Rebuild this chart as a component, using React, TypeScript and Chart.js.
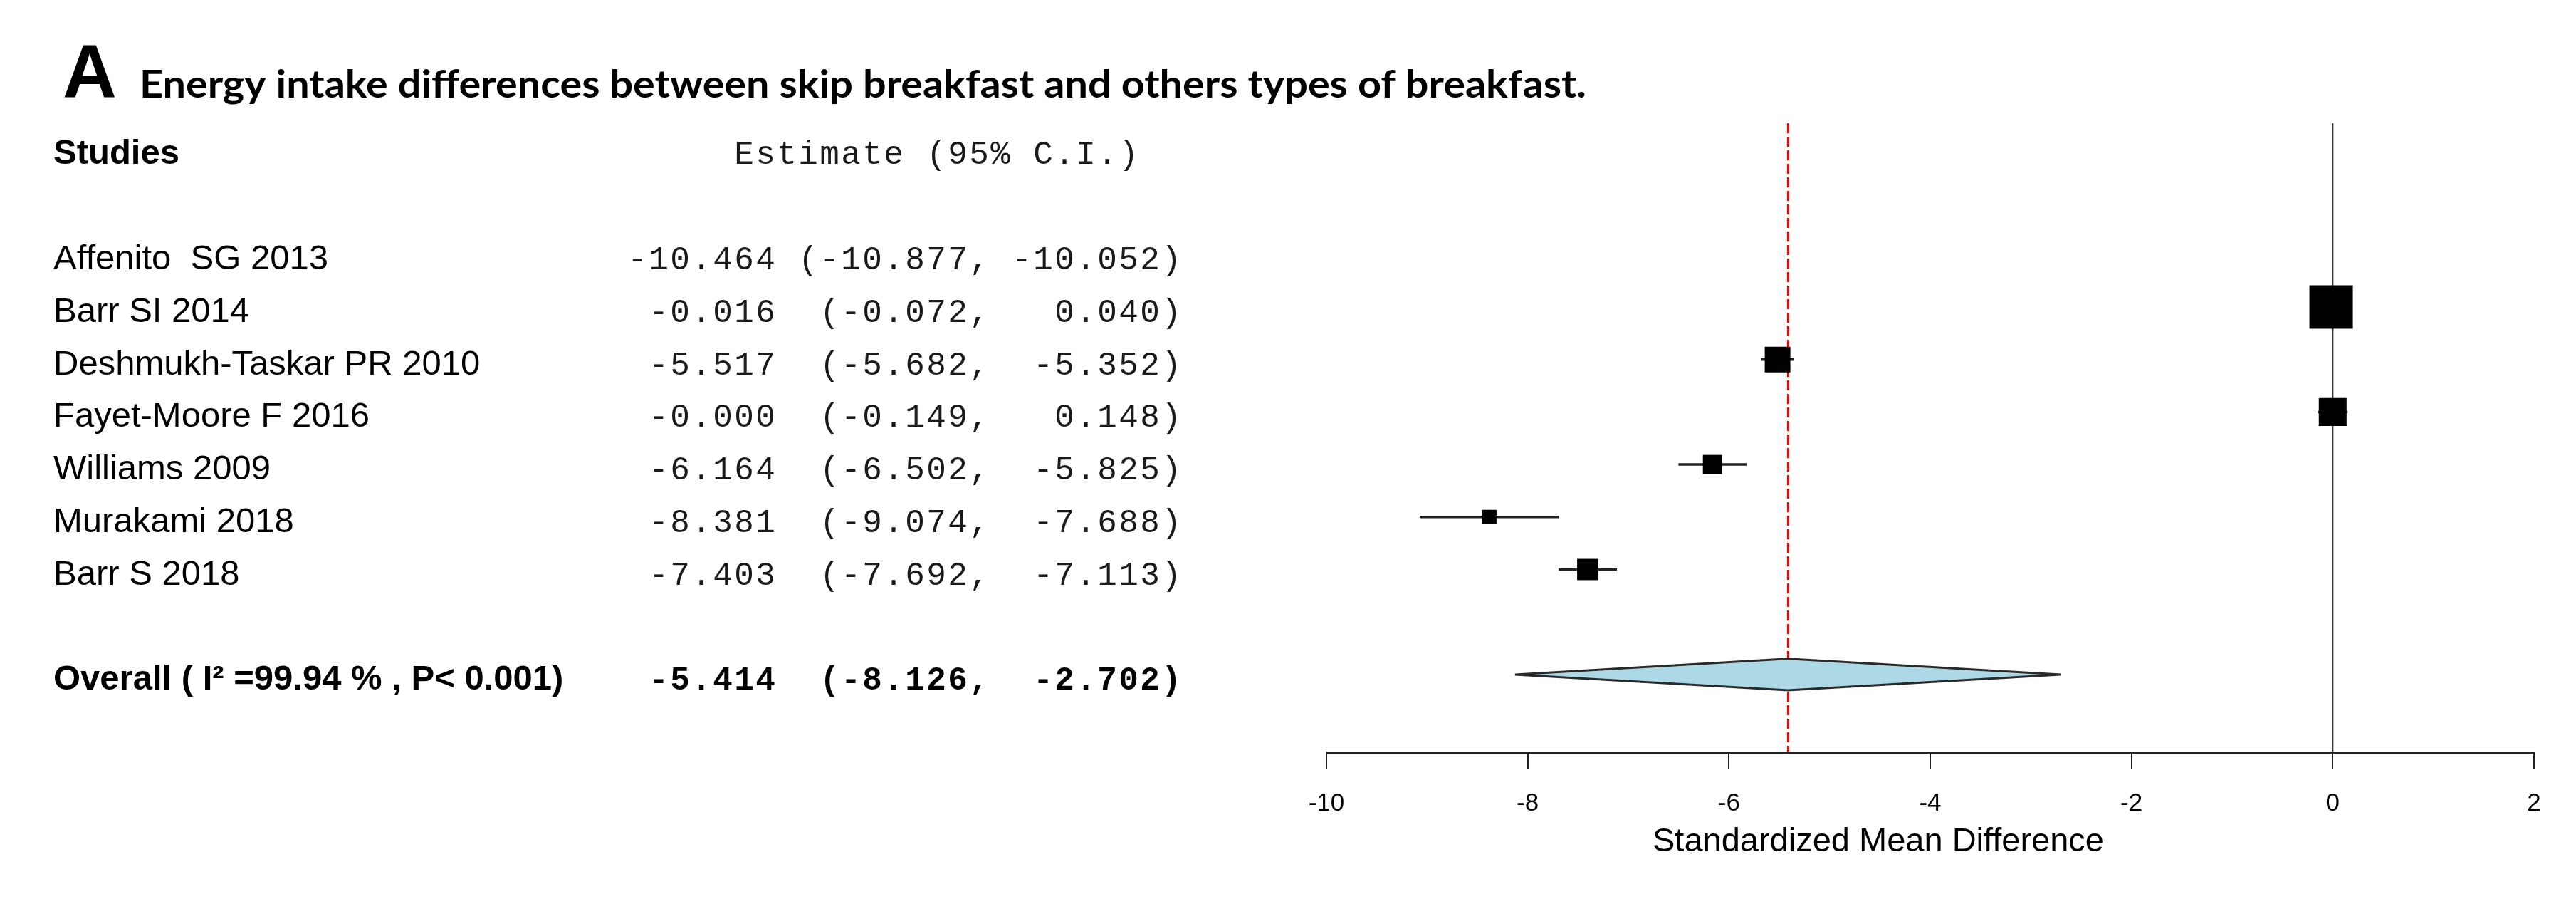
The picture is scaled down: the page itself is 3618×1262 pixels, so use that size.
import React, { useEffect, useRef } from "react";
import { Chart, registerables } from "chart.js";

Chart.register(...registerables);

// ---------------- data ----------------
const studyLabels = [
  "Affenito  SG 2013",
  "Barr SI 2014",
  "Deshmukh-Taskar PR 2010",
  "Fayet-Moore F 2016",
  "Williams 2009",
  "Murakami 2018",
  "Barr S 2018",
];
const estimates = [-10.464, -0.016, -5.517, -0.0003, -6.164, -8.381, -7.403];
const ciLower = [-10.877, -0.072, -5.682, -0.149, -6.502, -9.074, -7.692];
const ciUpper = [-10.052, 0.04, -5.352, 0.148, -5.825, -7.688, -7.113];
const studyWeights = [0.43, 1.0, 0.59, 0.64, 0.44, 0.33, 0.49];

const overallLabel = "Overall ( I\u00B2 =99.94 % , P< 0.001)";
const overallEstimate = -5.414;
const overallLower = -8.126;
const overallUpper = -2.702;

const xTickValues = [-10, -8, -6, -4, -2, 0, 2];

const panelLetter = "A";
const chartTitle =
  "Energy intake differences between skip breakfast and others types of breakfast.";
const studiesHeader = "Studies";
const estimateHeader = "Estimate (95% C.I.)";
const xAxisTitle = "Standardized Mean Difference";

// ---------------- layout / style ----------------
const W = 3618;
const H = 1262;
const PLOT_LEFT = 1863;
const PLOT_RIGHT = 3559;
const PLOT_TOP = 173;
const PLOT_BOTTOM = 1056;
const Y_MIN = -2.5;
const Y_MAX = 9.48;
const HEADER_ROW = -2;
const OVERALL_ROW = studyLabels.length + 1;
const MAX_SQUARE = 61;
const DIAMOND_HALF = 0.3;
const MONO_LEFT = 880;
const MONO_CELL = 30;
const MONO_FONT = '46px "Liberation Mono"';
const MONO_FONT_BOLD = 'bold 46px "Liberation Mono"';

const fmt = (v: number) => v.toFixed(3).padStart(7, " ");
function annotation(est: number, lb: number, ub: number) {
  const l = fmt(lb);
  const lt = l.trimStart();
  return fmt(est) + " " + " ".repeat(l.length - lt.length) + "(" + lt + ", " + fmt(ub) + ")";
}

function drawMono(ctx: CanvasRenderingContext2D, text: string, cell: number, y: number, font: string, color: string) {
  ctx.save();
  ctx.font = font;
  ctx.fillStyle = color;
  ctx.textAlign = "center";
  ctx.textBaseline = "alphabetic";
  for (let i = 0; i < text.length; i++) {
    const ch = text[i];
    if (ch === " ") continue;
    ctx.fillText(ch, MONO_LEFT + (cell + i + 0.5) * MONO_CELL, y);
  }
  ctx.restore();
}

const textPlugin = {
  id: "forestText",
  afterDraw(chart: any) {
    const ctx: CanvasRenderingContext2D = chart.ctx;
    const ys = chart.scales.y;
    ctx.save();
    ctx.fillStyle = "#000";
    ctx.textBaseline = "alphabetic";
    ctx.textAlign = "left";

    // panel letter + title
    ctx.font = 'bold 105px "Liberation Sans"';
    ctx.fillText(panelLetter, 88, 137);
    ctx.font = "bold 53px Lato";
    const tw = ctx.measureText(chartTitle).width;
    ctx.save();
    ctx.translate(196, 137);
    ctx.scale(2032 / tw, 1);
    ctx.fillText(chartTitle, 0, 0);
    ctx.restore();

    // headers
    const hy = ys.getPixelForValue(HEADER_ROW) + 20;
    ctx.font = 'bold 49px "Liberation Sans"';
    ctx.fillText(studiesHeader, 75, hy);
    drawMono(ctx, estimateHeader, 5, hy, MONO_FONT, "#1a1a1a");

    // study rows
    studyLabels.forEach((s, i) => {
      const y = ys.getPixelForValue(i) + 21;
      ctx.font = '49px "Liberation Sans"';
      ctx.fillStyle = "#000";
      ctx.fillText(s, 75, y);
      drawMono(ctx, annotation(estimates[i], ciLower[i], ciUpper[i]), 0, y, MONO_FONT, "#1a1a1a");
    });

    // overall row
    const oy = ys.getPixelForValue(OVERALL_ROW) + 21;
    ctx.font = 'bold 49px "Liberation Sans"';
    ctx.fillStyle = "#000";
    ctx.fillText(overallLabel, 75, oy);
    drawMono(ctx, annotation(overallEstimate, overallLower, overallUpper), 0, oy, MONO_FONT_BOLD, "#000");

    // x axis title
    ctx.font = '47px "Liberation Sans"';
    ctx.textAlign = "center";
    ctx.fillStyle = "#000";
    ctx.fillText(xAxisTitle, 2638, 1195);
    ctx.restore();
  },
};

function buildConfig(): any {
  const ciDatasets = studyLabels.map((_, i) => ({
    type: "line",
    data: [
      { x: ciLower[i], y: i },
      { x: ciUpper[i], y: i },
    ],
    borderColor: "#222",
    borderWidth: 3.5,
    pointRadius: 0,
    fill: false,
    order: 1,
  }));
  return {
    type: "scatter",
    data: {
      datasets: [
        {
          type: "scatter",
          data: estimates.map((x, i) => ({ x, y: i })),
          pointStyle: "rect",
          pointRadius: studyWeights.map((w) => (w * MAX_SQUARE) / Math.SQRT2),
          pointBackgroundColor: "#000",
          pointBorderWidth: 0,
          order: 0,
        },
        ...ciDatasets,
        {
          type: "line",
          data: [
            { x: overallLower, y: OVERALL_ROW },
            { x: overallEstimate, y: OVERALL_ROW - DIAMOND_HALF },
            { x: overallUpper, y: OVERALL_ROW },
            { x: overallEstimate, y: OVERALL_ROW + DIAMOND_HALF },
            { x: overallLower, y: OVERALL_ROW },
          ],
          borderColor: "#2a2a2a",
          borderWidth: 3,
          backgroundColor: "#add8e6",
          fill: "shape",
          pointRadius: 0,
          tension: 0,
          order: 2,
        },
        {
          type: "line",
          data: [
            { x: overallEstimate, y: Y_MIN },
            { x: overallEstimate, y: Y_MAX },
          ],
          borderColor: "#ff0000",
          borderWidth: 2.5,
          borderDash: [14, 5],
          pointRadius: 0,
          fill: false,
          order: 3,
        },
        {
          type: "line",
          data: [
            { x: 0, y: Y_MIN },
            { x: 0, y: Y_MAX },
          ],
          borderColor: "#333",
          borderWidth: 2,
          pointRadius: 0,
          fill: false,
          order: 4,
        },
      ],
    },
    options: {
      animation: false,
      responsive: false,
      devicePixelRatio: 1,
      events: [],
      layout: {
        padding: { left: PLOT_LEFT, right: W - PLOT_RIGHT, top: PLOT_TOP, bottom: 0 },
      },
      plugins: {
        legend: { display: false },
        tooltip: { enabled: false },
      },
      scales: {
        x: {
          type: "linear",
          min: xTickValues[0],
          max: xTickValues[xTickValues.length - 1],
          afterBuildTicks: (scale: any) => {
            scale.ticks = xTickValues.map((v) => ({ value: v }));
          },
          afterFit: (scale: any) => {
            scale.height = H - PLOT_BOTTOM;
          },
          ticks: {
            font: { family: "Liberation Sans", size: 35 },
            color: "#000",
            padding: 27,
            maxRotation: 0,
            autoSkip: false,
          },
          grid: {
            drawOnChartArea: false,
            drawTicks: true,
            tickLength: 24,
            color: "#222",
            lineWidth: 2,
          },
          border: { display: true, color: "#222", width: 3 },
        },
        y: {
          type: "linear",
          display: false,
          reverse: true,
          min: Y_MIN,
          max: Y_MAX,
        },
      },
    },
    plugins: [textPlugin],
  };
}

export default function App() {
  const ref = useRef<HTMLCanvasElement>(null);
  useEffect(() => {
    document.body.style.margin = "0";
    document.body.style.overflow = "hidden";
    document.body.style.background = "#fff";
    const chart = new Chart(ref.current as HTMLCanvasElement, buildConfig());
    const fonts: any = (document as any).fonts;
    if (fonts && fonts.load) {
      Promise.all([
        fonts.load("bold 53px Lato"),
        fonts.load('49px "Liberation Sans"'),
        fonts.load('bold 49px "Liberation Sans"'),
        fonts.load(MONO_FONT),
        fonts.load(MONO_FONT_BOLD),
      ])
        .then(() => chart.update())
        .catch(() => {});
    }
    return () => chart.destroy();
  }, []);
  return (
    <div style={{ width: W, height: H, background: "#fff" }}>
      <canvas ref={ref} width={W} height={H} style={{ width: W, height: H, display: "block" }} />
    </div>
  );
}
